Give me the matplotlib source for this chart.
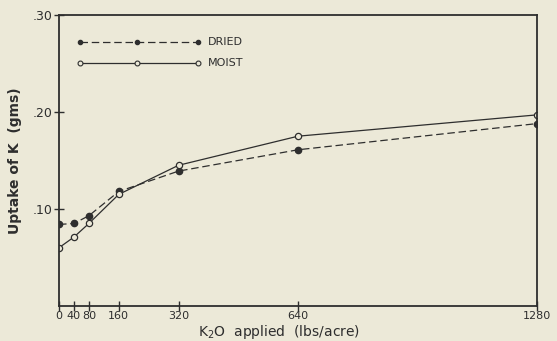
import matplotlib.pyplot as plt

# K2O applied (lbs/acre)
k2o = [0, 40, 80, 160, 320, 640, 1280]
dried = [0.084, 0.085, 0.093, 0.118, 0.139, 0.161, 0.188]
moist = [0.060, 0.071, 0.085, 0.115, 0.145, 0.175, 0.197]

x_ticks = [0, 40, 80, 160, 320, 640, 1280]
y_ticks = [0.10, 0.20, 0.30]
y_labels = [".10", ".20", ".30"]

# legend sample points (drawn inside the plot like the original)
legend_x = [56, 210, 372]
legend_labels = ["DRIED", "MOIST"]
legend_y = [0.272, 0.250]

bg = "#ece9d8"
ink = "#2e2e2e"

fig = plt.figure(figsize=(5.57, 3.41), dpi=100, facecolor=bg)
ax = fig.add_axes([0.106, 0.103, 0.858, 0.853], facecolor=bg)

ax.plot(k2o, dried, color=ink, lw=0.9, ls=(0, (6, 3)), marker="o", ms=4.5,
        mfc=ink, mec=ink)
ax.plot(k2o, moist, color=ink, lw=0.9, ls="-", marker="o", ms=4.5,
        mfc=bg, mec=ink, mew=0.9)

# hand-drawn style legend
ax.plot(legend_x, [legend_y[0]] * 3, color=ink, lw=0.9, ls=(0, (6, 3)),
        marker="o", ms=3, mfc=ink, mec=ink)
ax.plot(legend_x, [legend_y[1]] * 3, color=ink, lw=0.9, ls="-",
        marker="o", ms=3.5, mfc=bg, mec=ink, mew=0.8)
for lab, yy in zip(legend_labels, legend_y):
    ax.text(398, yy, lab, fontsize=8, color=ink, va="center", ha="left")

ax.set_xlim(0, 1280)
ax.set_ylim(0, 0.30)
ax.set_xticks(x_ticks)
ax.set_xticklabels([str(v) for v in x_ticks])
ax.set_yticks(y_ticks)
ax.set_yticklabels(y_labels)
ax.tick_params(direction="inout", length=7, width=1, colors=ink, pad=1)
ax.tick_params(axis="x", labelsize=8, pad=0)
ax.tick_params(axis="y", labelsize=9)

for s in ax.spines.values():
    s.set_color(ink)
    s.set_linewidth(1.3)

ax.set_ylabel("Uptake of K  (gms)", fontsize=10, color=ink,
              fontweight="semibold")
ax.yaxis.set_label_coords(-0.077, 0.5)
ax.set_xlabel("K$_2$O  applied  (lbs/acre)", fontsize=10, color=ink)
ax.xaxis.set_label_coords(0.46, -0.058)

fig.savefig("out.png", dpi=100, facecolor=bg)
